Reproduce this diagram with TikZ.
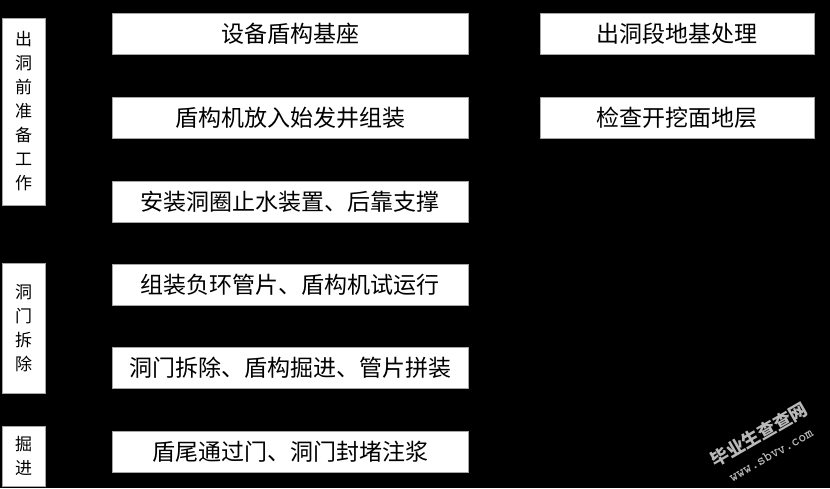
\documentclass[tikz,border=0pt]{standalone}
\usepackage{fontspec}
\newfontfamily\cjk{Noto Sans CJK SC}
\begin{document}
\begin{tikzpicture}[x=1pt,y=-1pt,
  box/.style={draw=gray!70,line width=0.6pt,fill=white,inner sep=0pt,
    font=\cjk\fontsize{23}{26}\selectfont},
  sidebox/.style={draw=gray!70,line width=0.6pt,fill=white,inner sep=0pt,align=center,
    minimum width=43pt,font=\cjk\fontsize{17}{24}\selectfont},
  wmark/.style={text=gray!55,rotate=30,inner sep=0pt}]
\fill[black] (0,0) rectangle (830,488);
\useasboundingbox (0,0) rectangle (830,488);
% left category boxes
\node[sidebox,minimum height=187pt] (s1) at (23.5,111.5) {出\\洞\\前\\准\\备\\工\\作};
\node[sidebox,minimum height=130pt] (s2) at (23.5,328) {洞\\门\\拆\\除};
\node[sidebox,minimum height=60pt] (s3) at (23.5,456) {掘\\进};
% middle steps
\node[box,minimum width=356pt,minimum height=41pt] (m1) at (290,34) {设备盾构基座};
\node[box,minimum width=356pt,minimum height=41pt] (m2) at (290,117.5) {盾构机放入始发井组装};
\node[box,minimum width=356pt,minimum height=41pt] (m3) at (290,201.5) {安装洞圈止水装置、后靠支撑};
\node[box,minimum width=356pt,minimum height=41pt] (m4) at (290,284.5) {组装负环管片、盾构机试运行};
\node[box,minimum width=356pt,minimum height=41pt] (m5) at (290,368) {洞门拆除、盾构掘进、管片拼装};
\node[box,minimum width=356pt,minimum height=41pt] (m6) at (290,451.5) {盾尾通过门、洞门封堵注浆};
% right steps
\node[box,minimum width=274pt,minimum height=41pt] (r1) at (677,34) {出洞段地基处理};
\node[box,minimum width=274pt,minimum height=41pt] (r2) at (677,117.5) {检查开挖面地层};
% watermark
\node[wmark,font=\cjk\bfseries\fontsize{18}{18}\selectfont] (w1) at (759,435) {毕业生查查网};
\node[wmark,font=\ttfamily\bfseries\fontsize{15}{15}\selectfont] (w2) at (771,455) {www.sbvv.com};
\end{tikzpicture}
\end{document}
